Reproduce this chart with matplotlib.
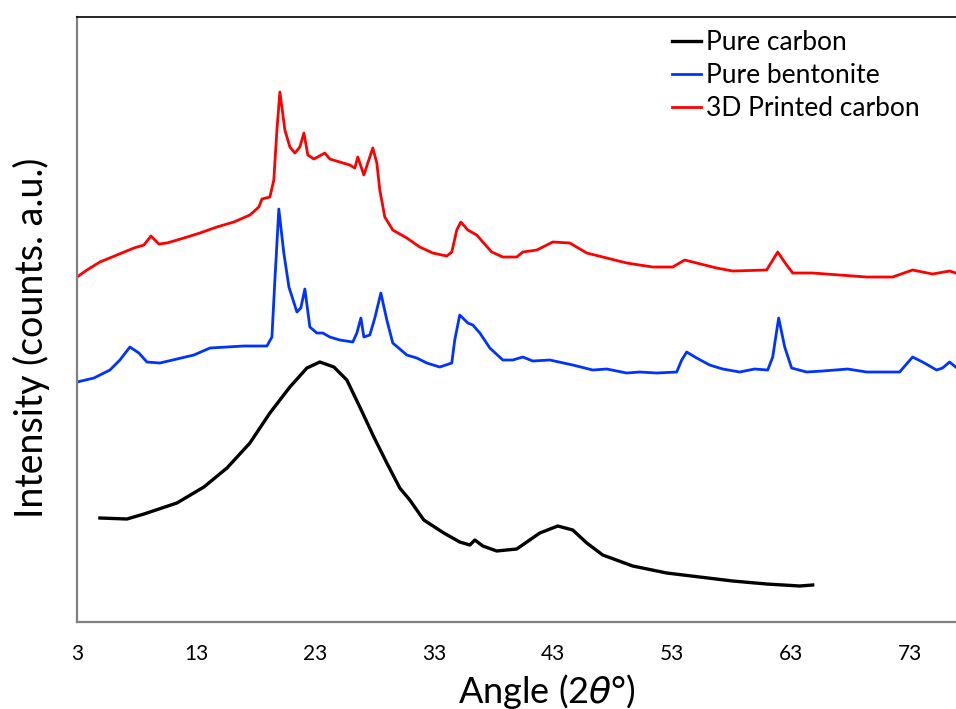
import matplotlib
matplotlib.use('Agg')
import matplotlib.pyplot as plt

plt.rcParams['font.family'] = ['Lato', 'DejaVu Sans']
plt.rcParams['mathtext.fontset'] = 'dejavusans'

# XRD patterns (2theta in degrees, intensity in a.u.)
carbon_x = [4.93, 7.20, 8.63, 11.40, 13.67, 15.61, 17.54, 19.22, 20.90, 22.33,
            23.42, 24.60, 25.69, 26.78, 27.96, 29.05, 30.14, 30.98, 32.16, 33.84,
            35.18, 36.03, 36.45, 37.12, 38.29, 39.97, 41.91, 43.42, 44.68, 45.86,
            47.20, 49.72, 52.58, 55.35, 58.13, 60.98, 63.76, 64.85]
carbon_y = [103, 102, 107, 118, 134, 153, 178, 208, 234, 253,
            259, 254, 241, 214, 184, 158, 133, 121, 101, 88,
            79, 76, 81, 75, 70, 72, 88, 95, 91, 78,
            66, 55, 48, 44, 40, 37, 35, 36]

bentonite_x = [3.00, 4.43, 5.77, 6.61, 7.45, 8.21, 8.88, 9.97, 11.40, 12.83,
               14.18, 15.61, 17.03, 18.97, 19.39, 19.64, 19.97, 20.39, 20.82, 21.49,
               21.82, 22.16, 22.58, 23.17, 23.67, 24.26, 25.10, 26.19, 26.53, 26.87,
               27.12, 27.62, 28.04, 28.55, 29.05, 29.55, 30.73, 31.57, 32.41, 33.50,
               34.51, 34.76, 35.18, 35.86, 36.28, 36.87, 37.71, 38.80, 39.64, 40.48,
               41.32, 42.75, 44.68, 46.36, 47.54, 49.22, 50.31, 51.74, 53.42, 53.84,
               54.26, 55.10, 56.19, 57.29, 58.71, 59.97, 61.07, 61.49, 61.99, 62.50,
               63.08, 64.34, 65.69, 67.79, 69.39, 72.16, 73.25, 74.09, 75.27, 75.77,
               76.36, 76.87]
bentonite_y = [239, 243, 251, 261, 274, 268, 259, 258, 262, 266,
               273, 274, 275, 275, 284, 341, 412, 368, 334, 309,
               313, 332, 294, 288, 288, 284, 281, 279, 288, 303,
               284, 286, 303, 328, 301, 278, 266, 263, 258, 254,
               258, 281, 306, 298, 296, 288, 273, 261, 261, 264,
               260, 261, 256, 251, 252, 248, 249, 248, 249, 261,
               269, 263, 256, 252, 249, 252, 251, 264, 303, 274,
               253, 249, 250, 252, 249, 249, 264, 259, 251, 253,
               259, 254]

printed_x = [3.00, 3.84, 4.93, 6.36, 7.79, 8.63, 9.22, 9.89, 10.56, 11.99,
             13.34, 14.76, 16.19, 17.54, 18.29, 18.55, 19.22, 19.55, 19.81, 20.06,
             20.48, 20.90, 21.32, 21.74, 22.08, 22.41, 22.92, 23.84, 24.26, 25.10,
             25.94, 26.36, 26.61, 27.12, 27.45, 27.87, 28.21, 28.46, 28.88, 29.55,
             30.73, 31.82, 32.92, 34.09, 34.51, 34.93, 35.27, 35.86, 36.61, 37.12,
             37.87, 38.80, 39.97, 40.48, 41.66, 43.00, 44.43, 45.86, 47.54, 49.22,
             51.40, 53.08, 54.09, 55.10, 56.78, 58.13, 60.98, 61.91, 62.66, 63.17,
             64.85, 67.12, 69.39, 71.57, 73.25, 74.93, 76.36, 76.87]
printed_y = [344, 351, 359, 366, 373, 376, 385, 377, 378, 383,
             388, 394, 399, 406, 414, 422, 424, 441, 491, 529,
             491, 474, 468, 474, 488, 466, 462, 468, 462, 459,
             456, 453, 464, 446, 458, 473, 458, 431, 404, 391,
             383, 374, 368, 365, 369, 391, 399, 391, 386, 379,
             369, 364, 364, 369, 371, 379, 378, 368, 363, 358,
             354, 354, 361, 358, 353, 350, 351, 369, 356, 348,
             348, 346, 344, 344, 351, 347, 350, 348]

xticks = [3, 13, 23, 33, 43, 53, 63, 73]

fig = plt.figure(figsize=(9.56, 7.09), dpi=100)
ax = fig.add_axes([0.0805, 0.1227, 0.9195, 0.8533])

ax.plot(carbon_x, carbon_y, color='black', lw=2.4, label='Pure carbon')
ax.plot(bentonite_x, bentonite_y, color='#0033ff', lw=2.0, label='Pure bentonite')
ax.plot(printed_x, printed_y, color='#ff0000', lw=2.0, label='3D Printed carbon')

ax.set_xlim(3, 76.9)
ax.set_ylim(-1, 604)
ax.set_xticks(xticks)
ax.set_yticks([])
ax.tick_params(axis='x', length=0, pad=16, labelsize=15)

ax.spines['right'].set_visible(False)
ax.spines['top'].set_color('black')
ax.spines['top'].set_linewidth(1.2)
for s in ['left', 'bottom']:
    ax.spines[s].set_color('#808080')
    ax.spines[s].set_linewidth(1.6)

ax.set_xlabel(r'Angle (2$\theta$°)', fontsize=26)
ax.set_ylabel('Intensity (counts. a.u.)', fontsize=27)
ax.xaxis.set_label_coords(0.535, -0.082)
ax.yaxis.set_label_coords(-0.031, 0.469)

ax.legend(loc='upper left', bbox_to_anchor=(0.677, 0.978), frameon=False,
          fontsize=19, handlelength=1.1, handletextpad=0.2, labelspacing=0.3,
          borderpad=0, borderaxespad=0)

fig.savefig('out.png', dpi=100)
